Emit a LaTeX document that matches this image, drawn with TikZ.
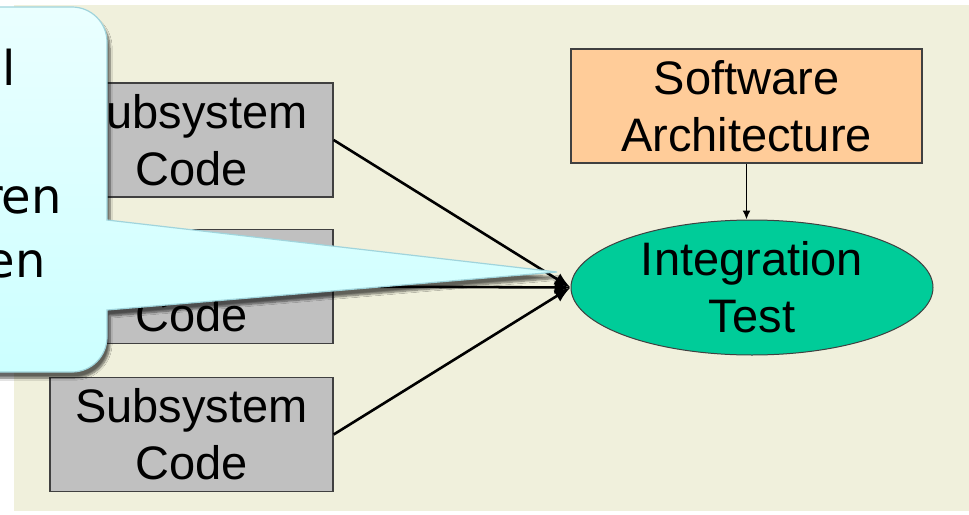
\documentclass[tikz,border=0pt]{standalone}
\usepackage{fontspec}
\setmainfont{Liberation Sans}
\newfontfamily\calloutfont{DejaVu Sans}
\usetikzlibrary{shapes.geometric,arrows.meta,shadows.blur}
\definecolor{bgbeige}{HTML}{F0F0DC}
\definecolor{boxgray}{HTML}{C0C0C0}
\definecolor{edgegray}{HTML}{404040}
\definecolor{peach}{HTML}{FFCC99}
\definecolor{testgreen}{HTML}{00CC99}
\definecolor{callborder}{HTML}{A0D4DC}
\definecolor{calltop}{HTML}{EAFFFF}
\definecolor{callbot}{HTML}{CCFFFF}
\tikzset{
  codebox/.style={draw=edgegray, line width=1.3pt, fill=boxgray, minimum width=283pt, minimum height=114pt, inner sep=0pt, align=center, font=\fontsize{47}{57}\selectfont},
  archbox/.style={draw=edgegray, line width=1.3pt, fill=peach, minimum width=351pt, minimum height=114pt, inner sep=0pt, align=center, font=\fontsize{47}{57}\selectfont},
  testell/.style={ellipse, draw=edgegray, line width=1pt, fill=testgreen, minimum width=362pt, minimum height=135pt, inner sep=0pt, align=center, font=\fontsize{47}{57}\selectfont},
  bigarrow/.style={line width=2.6pt, -{Latex[length=16pt,width=13pt]}},
  smallarrow/.style={line width=1.7pt, -{Latex[length=9pt,width=8pt]}},
  calltext/.style={anchor=base east, inner sep=0pt, font=\calloutfont\fontsize{48}{64}\selectfont}
}
\begin{document}
\begin{tikzpicture}[x=1pt,y=-1pt]
\useasboundingbox (0,0) rectangle (969,514);
\fill[white] (0,0) rectangle (969,514);
\fill[bgbeige] (14,5) rectangle (969,511);

\node[codebox] (b1) at (191.5,140) {Subsystem\\Code};
\node[codebox] (b2) at (191.5,286.5) {Subsystem\\Code};
\node[codebox] (b3) at (191.5,434.5) {Subsystem\\Code};
\node[archbox] (sa) at (746.5,106) {Software\\Architecture};
\node[testell] (it) at (752,287.5) {Integration\\Test};

\draw[smallarrow] (sa.south) -- (sa.south |- it.north);
\draw[bigarrow] (b1.east) -- (it.west);
\draw[bigarrow] (b2.east) -- (it.west);
\draw[bigarrow] (b3.east) -- (it.west);

\coordinate (tip) at (557,272);
\draw[draw=callborder, line width=1.2pt, top color=calltop, bottom color=callbot,
      blur shadow={shadow xshift=3pt, shadow yshift=-6pt, shadow opacity=60, shadow blur steps=8}]
  (-60,7) [rounded corners=35pt] -- (107,7) -- (107,150) [sharp corners] -- (107,220)
  -- (tip) -- (107,310) -- (107,330) [rounded corners=35pt] -- (107,372) -- (-60,372) [sharp corners] -- cycle;

\node[calltext] (t1) at (16,85) {l};
\node[calltext] (t2) at (62,213) {ren};
\node[calltext] (t3) at (46,277) {en};
\end{tikzpicture}
\end{document}
